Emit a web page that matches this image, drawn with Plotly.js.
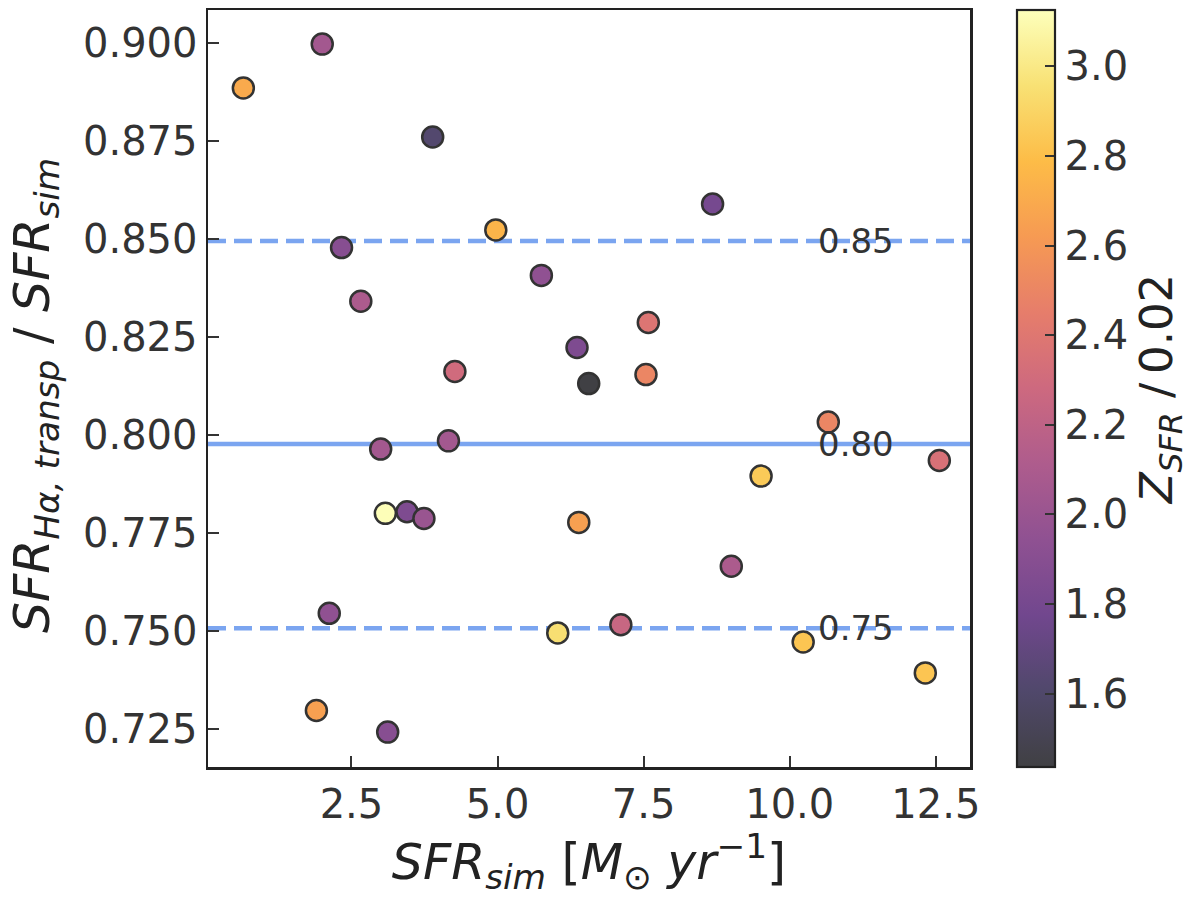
<!DOCTYPE html>
<html>
<head>
<meta charset="utf-8">
<script src="https://cdn.plot.ly/plotly-3.0.1.min.js"></script>
<style>
  html, body { margin: 0; padding: 0; background: #fff; }
  #chart { width: 1200px; height: 897px; }
</style>
</head>
<body>
<div id="chart"></div>
<script>
// star formation rate of the simulated galaxies, M_sun / yr
const sfrSim = [
  0.65, 2.00, 3.89, 4.97, 2.33, 5.75, 2.66, 4.27, 6.36, 6.56,
  8.68, 7.58, 7.54, 3.00, 4.16, 3.08, 3.45, 3.74, 6.39, 2.12,
  6.03, 1.90, 3.12, 10.66, 12.56, 9.51, 9.00, 7.11, 10.23, 12.32,
];
// SFR(H-alpha, transparent) / SFR(sim)
const sfrRatio = [
  0.8886, 0.8998, 0.8761, 0.8524, 0.8479, 0.8408, 0.8342, 0.8163, 0.8224, 0.8132,
  0.8590, 0.8288, 0.8155, 0.7965, 0.7986, 0.7801, 0.7805, 0.7788, 0.7778, 0.7546,
  0.7496, 0.7298, 0.7243, 0.8034, 0.7936, 0.7896, 0.7666, 0.7517, 0.7473, 0.7394,
];
// Z_SFR / 0.02
const zSfr = [
  2.70, 2.05, 1.62, 2.75, 1.90, 1.95, 2.10, 2.30, 1.85, 1.44,
  1.80, 2.38, 2.50, 2.05, 2.05, 3.12, 1.85, 2.00, 2.65, 1.95,
  2.95, 2.65, 1.90, 2.50, 2.35, 2.85, 2.10, 2.25, 2.83, 2.83,
];

const refLevels = [0.8496, 0.7978, 0.7508];
const refLabels = ["0.85", "0.80", "0.75"];
const refDash = ["dash", "solid", "dash"];

const xTicks = [2.5, 5.0, 7.5, 10.0, 12.5];
const yTicks = [0.725, 0.75, 0.775, 0.8, 0.825, 0.85, 0.875, 0.9];
const cbTicks = [1.6, 1.8, 2.0, 2.2, 2.4, 2.6, 2.8, 3.0];

const INFERNO = [
  "#000004", "#160b39", "#420a68", "#6a176e", "#932667", "#bc3754",
  "#dd513a", "#f37819", "#fca50a", "#f6d746", "#fcffa4",
];

const FONT = "DejaVu Sans";
const INK = "#333333";

// scatter alpha in the original is ~0.75 over white
function blendWhite(hex, alpha) {
  const n = parseInt(hex.slice(1), 16);
  const rgb = [(n >> 16) & 255, (n >> 8) & 255, n & 255].map((c) =>
    Math.round(c * alpha + 255 * (1 - alpha)),
  );
  return `rgb(${rgb.join(",")})`;
}

const colorscale = INFERNO.map((c, i) => [i / (INFERNO.length - 1), blendWhite(c, 0.75)]);

const trace = {
  type: "scatter",
  mode: "markers",
  x: sfrSim,
  y: sfrRatio,
  hoverinfo: "skip",
  marker: {
    size: 21,
    color: zSfr,
    colorscale: colorscale,
    cmin: 1.436,
    cmax: 3.126,
    line: { color: "#333", width: 2.5 },
    colorbar: {
      x: 1.0617,
      xanchor: "left",
      y: 0.5,
      yanchor: "middle",
      len: 1,
      lenmode: "fraction",
      ypad: 0,
      xpad: 0,
      thickness: 38,
      outlinewidth: 2.2,
      outlinecolor: "#222",
      tickmode: "array",
      tickvals: cbTicks,
      ticktext: cbTicks.map((v) => v.toFixed(1)),
      ticks: "inside",
      ticklen: 11,
      tickwidth: 2,
      tickcolor: INK,
      tickfont: { family: FONT, size: 40, color: INK },
      title: {
        text: "<i>Z<sub>SFR</sub></i> /\u20090.02",
        side: "right",
        font: { family: FONT, size: 45, color: "#222" },
      },
    },
  },
};

const shapes = refLevels.map((level, i) => ({
  type: "line",
  xref: "paper",
  yref: "y",
  x0: 0,
  x1: 1,
  y0: level,
  y1: level,
  layer: "below",
  line: {
    color: "rgba(100,149,237,0.85)",
    width: 4.5,
    dash: refDash[i] === "dash" ? "18px,8px" : "solid",
  },
}));

const annotations = refLevels.map((level, i) => ({
  x: 10.45,
  y: level,
  xref: "x",
  yref: "y",
  xanchor: "left",
  yanchor: "middle",
  text: refLabels[i],
  showarrow: false,
  font: { family: FONT, size: 34, color: INK },
}));

// y title as an annotation so that it centres on the plot like the original
annotations.push({
  x: -0.227,
  y: 0.49,
  xref: "paper",
  yref: "paper",
  xanchor: "center",
  yanchor: "middle",
  textangle: -90,
  showarrow: false,
  text: "<i>SFR<sub>Hα, transp</sub></i> / <i>SFR<sub>sim</sub></i>",
  font: { family: FONT, size: 49, color: "#222" },
});

const axisBase = {
  showgrid: false,
  zeroline: false,
  showline: true,
  mirror: true,
  linecolor: "#222",
  linewidth: 2.5,
  ticks: "inside",
  ticklen: 11,
  tickwidth: 2,
  tickcolor: INK,
  tickfont: { family: FONT, size: 40, color: INK },
};

const layout = {
  width: 1200,
  height: 897,
  margin: { l: 208, r: 230, t: 10, b: 130 },
  paper_bgcolor: "#fff",
  plot_bgcolor: "#fff",
  showlegend: false,
  shapes: shapes,
  annotations: annotations,
  xaxis: {
    ...axisBase,
    range: [0.045, 13.085],
    tickmode: "array",
    tickvals: xTicks,
    ticktext: xTicks.map((v) => v.toFixed(1)),
    title: {
      text: "<i>SFR<sub>sim</sub></i> [<i>M</i><sub>⊙</sub> <i>yr</i><sup>−1</sup>]",
      font: { family: FONT, size: 49, color: "#222" },
      standoff: 12,
    },
  },
  yaxis: {
    ...axisBase,
    range: [0.7154, 0.9085],
    tickmode: "array",
    tickvals: yTicks,
    ticktext: yTicks.map((v) => v.toFixed(3)),
  },
};

Plotly.newPlot("chart", [trace], layout, { staticPlot: true, displayModeBar: false });
</script>
</body>
</html>
